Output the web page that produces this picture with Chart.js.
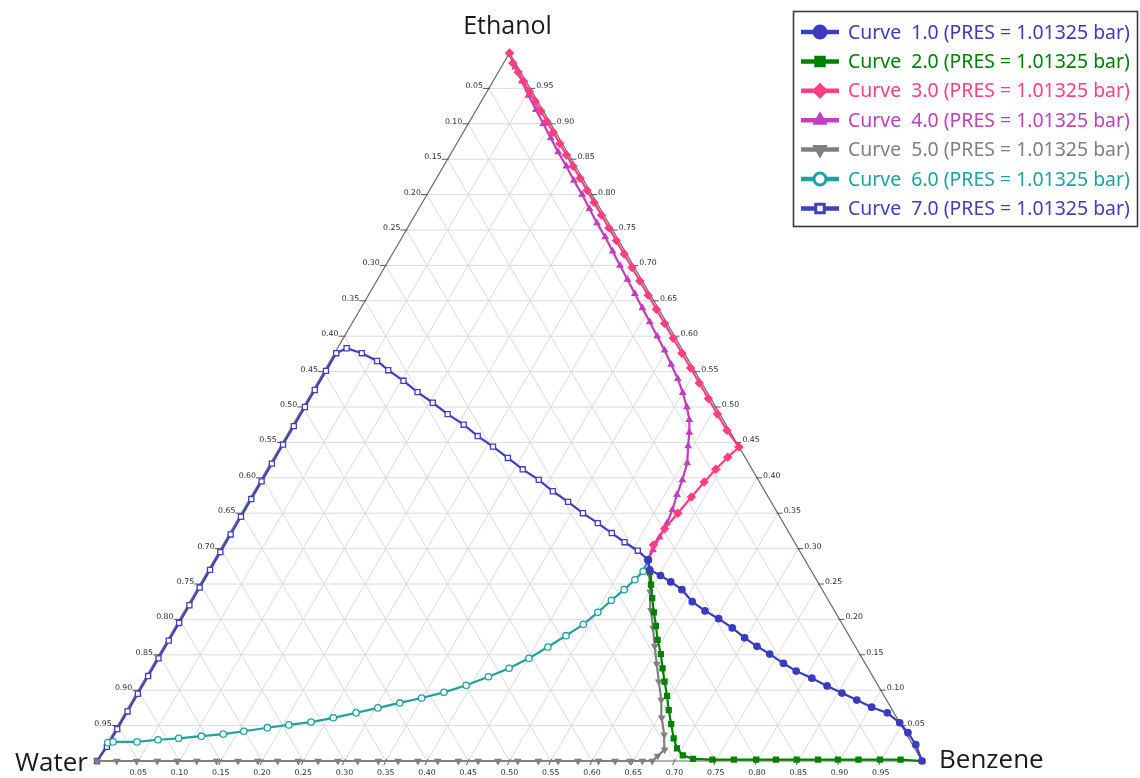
<!DOCTYPE html>
<html><head><meta charset="utf-8">
<script src="https://cdn.jsdelivr.net/npm/chart.js@4.4.1/dist/chart.umd.min.js"></script>
<style>html,body{margin:0;padding:0;background:#fff;}#wrap{width:1140px;height:778px;position:relative;}</style>
</head><body><div id="wrap"><canvas id="c"></canvas></div>
<script>
// ---- data (mole fractions; water = 1 - ethanol - benzene) ----
const vertexNames = ['Water', 'Ethanol', 'Benzene'];
const tickValues = [0.05,0.10,0.15,0.20,0.25,0.30,0.35,0.40,0.45,0.50,0.55,0.60,0.65,0.70,0.75,0.80,0.85,0.90,0.95];
const tickLabels = ['0.05','0.10','0.15','0.20','0.25','0.30','0.35','0.40','0.45','0.50','0.55','0.60','0.65','0.70','0.75','0.80','0.85','0.90','0.95'];
const curveNames = ['Curve  1.0 (PRES = 1.01325 bar)','Curve  2.0 (PRES = 1.01325 bar)','Curve  3.0 (PRES = 1.01325 bar)','Curve  4.0 (PRES = 1.01325 bar)','Curve  5.0 (PRES = 1.01325 bar)','Curve  6.0 (PRES = 1.01325 bar)','Curve  7.0 (PRES = 1.01325 bar)'];

const curve1Ethanol = [0.284,0.270,0.262,0.253,0.242,0.225,0.212,0.201,0.188,0.174,0.162,0.151,0.138,0.127,0.117,0.106,0.096,0.086,0.076,0.068,0.054,0.040,0.023,0.000];
const curve1Benzene = [0.526,0.535,0.552,0.569,0.588,0.609,0.631,0.653,0.676,0.698,0.719,0.740,0.763,0.784,0.808,0.832,0.855,0.878,0.901,0.924,0.946,0.963,0.981,1.000];

const curve2Ethanol = [0.284,0.267,0.249,0.230,0.210,0.191,0.171,0.151,0.131,0.112,0.092,0.072,0.052,0.032,0.018,0.008,0.003,0.002,0.002,0.002,0.002,0.002,0.002,0.002,0.002,0.002,0.002,0.000];
const curve2Benzene = [0.526,0.537,0.547,0.558,0.570,0.582,0.594,0.608,0.620,0.632,0.645,0.657,0.670,0.683,0.694,0.706,0.721,0.745,0.771,0.798,0.822,0.847,0.873,0.897,0.922,0.948,0.973,1.000];

const curve3Ethanol = [1.000,0.986,0.973,0.960,0.946,0.932,0.918,0.903,0.888,0.872,0.856,0.840,0.823,0.806,0.789,0.771,0.753,0.735,0.716,0.697,0.678,0.658,0.638,0.618,0.597,0.576,0.555,0.534,0.512,0.490,0.467,0.4435,0.429,0.412,0.394,0.373,0.350,0.328,0.305,0.284];
const curve3Benzene = [0.000,0.011,0.024,0.037,0.051,0.065,0.079,0.094,0.109,0.125,0.141,0.157,0.174,0.191,0.208,0.226,0.244,0.262,0.281,0.300,0.319,0.339,0.359,0.379,0.400,0.421,0.442,0.463,0.485,0.507,0.530,0.5565,0.550,0.544,0.539,0.534,0.529,0.524,0.522,0.526];

const curve4Ethanol = [1.000,0.980,0.960,0.940,0.920,0.900,0.880,0.860,0.840,0.820,0.800,0.780,0.760,0.740,0.720,0.700,0.680,0.660,0.640,0.620,0.600,0.580,0.560,0.540,0.520,0.500,0.482,0.464,0.445,0.421,0.397,0.376,0.355,0.336,0.316,0.298,0.284];
const curve4Benzene = [0.000,0.017,0.035,0.053,0.072,0.091,0.110,0.129,0.149,0.168,0.188,0.207,0.226,0.246,0.265,0.284,0.303,0.322,0.341,0.360,0.379,0.398,0.416,0.434,0.450,0.465,0.477,0.486,0.494,0.505,0.511,0.515,0.520,0.523,0.524,0.525,0.526];

const curve5Ethanol = [0,0,0,0,0,0,0,0,0,0,0,0,0,0,0,0,0,0,0,0,0,0,0,0,0,0,0,0,0,0,0.007,0.016,0.037,0.061,0.086,0.112,0.137,0.162,0.188,0.213,0.239,0.263,0.284];
const curve5Benzene = [0.000,0.024,0.048,0.073,0.097,0.121,0.145,0.171,0.195,0.219,0.244,0.268,0.292,0.316,0.341,0.365,0.389,0.413,0.438,0.462,0.486,0.510,0.535,0.559,0.583,0.608,0.628,0.646,0.661,0.673,0.676,0.680,0.669,0.654,0.641,0.625,0.610,0.595,0.580,0.565,0.551,0.538,0.526];

const curve6Ethanol = [0.026,0.027,0.027,0.030,0.032,0.035,0.038,0.042,0.047,0.051,0.055,0.061,0.068,0.075,0.082,0.089,0.097,0.107,0.119,0.131,0.145,0.161,0.177,0.193,0.210,0.227,0.242,0.256,0.268,0.284];
const curve6Benzene = [0.000,0.006,0.035,0.059,0.083,0.109,0.134,0.157,0.183,0.207,0.232,0.256,0.280,0.303,0.326,0.349,0.372,0.394,0.415,0.434,0.451,0.466,0.480,0.493,0.502,0.510,0.518,0.524,0.528,0.526];

const curve7Ethanol = [0.000,0.020,0.045,0.070,0.095,0.120,0.145,0.170,0.195,0.220,0.245,0.270,0.295,0.320,0.345,0.370,0.395,0.420,0.447,0.473,0.500,0.524,0.551,0.576,0.583,0.576,0.565,0.552,0.537,0.521,0.506,0.490,0.475,0.459,0.444,0.428,0.412,0.397,0.381,0.366,0.350,0.336,0.322,0.309,0.297,0.284];
const curve7Benzene = [0.000,0.002,0.002,0.002,0.002,0.002,0.002,0.002,0.002,0.002,0.002,0.002,0.002,0.002,0.002,0.002,0.002,0.002,0.002,0.002,0.002,0.002,0.002,0.002,0.011,0.033,0.057,0.077,0.103,0.128,0.154,0.180,0.207,0.232,0.258,0.284,0.310,0.337,0.362,0.388,0.414,0.439,0.463,0.485,0.507,0.526];

// ---- styling ----
const styles = [
  {color:'#3b3bbf', fill:'#3b3bbf', style:'circle', r:3.2, rot:0},
  {color:'#008000', fill:'#008000', style:'rect', r:3.5, rot:0},
  {color:'#ff3f7f', fill:'#ff3f7f', style:'rectRot', r:3.8, rot:0},
  {color:'#bf3fbf', fill:'#bf3fbf', style:'triangle', r:3.2, rot:0},
  {color:'#808080', fill:'#808080', style:'triangle', r:3.2, rot:180},
  {color:'#20a0a0', fill:'#ffffff', style:'circle', r:3.2, rot:0},
  {color:'#3f3fbf', fill:'#ffffff', style:'rect', r:3.6, rot:0}
];
const ethanolSets = [curve1Ethanol,curve2Ethanol,curve3Ethanol,curve4Ethanol,curve5Ethanol,curve6Ethanol,curve7Ethanol];
const benzeneSets = [curve1Benzene,curve2Benzene,curve3Benzene,curve4Benzene,curve5Benzene,curve6Benzene,curve7Benzene];

function toXY(e, b){ return {x: b + e/2, y: e}; }

const datasets = curveNames.map((name,i)=>({
  label: name,
  data: ethanolSets[i].map((e,k)=>toXY(e, benzeneSets[i][k])),
  showLine: true,
  borderColor: styles[i].color,
  backgroundColor: styles[i].fill,
  pointBorderColor: styles[i].color,
  pointBackgroundColor: styles[i].fill,
  pointStyle: styles[i].style,
  pointRadius: styles[i].r,
  pointRotation: styles[i].rot,
  pointBorderWidth: 1.3,
  borderWidth: 2.2,
  tension: 0,
  clip: false
}));

const ternaryFrame = {
  id: 'ternaryFrame',
  beforeDatasetsDraw(chart){
    const ctx = chart.ctx, xs = chart.scales.x, ys = chart.scales.y;
    const P = (e,b)=>[xs.getPixelForValue(b + e/2), ys.getPixelForValue(e)];
    ctx.save();
    ctx.strokeStyle = '#dadada'; ctx.lineWidth = 1;
    ctx.beginPath();
    tickValues.forEach(v=>{
      let a=P(v,0), b=P(v,1-v); ctx.moveTo(a[0],a[1]); ctx.lineTo(b[0],b[1]);
      a=P(0,v); b=P(1-v,v); ctx.moveTo(a[0],a[1]); ctx.lineTo(b[0],b[1]);
      a=P(0,1-v); b=P(1-v,0); ctx.moveTo(a[0],a[1]); ctx.lineTo(b[0],b[1]);
    });
    ctx.stroke();
    const W=P(0,0), E=P(1,0), B=P(0,1);
    ctx.strokeStyle = '#6a6a6a'; ctx.lineWidth = 1.2;
    ctx.beginPath(); ctx.moveTo(W[0],W[1]); ctx.lineTo(E[0],E[1]); ctx.lineTo(B[0],B[1]); ctx.lineTo(W[0],W[1]); ctx.stroke();
    ctx.font = '7.8px "DejaVu Sans"'; ctx.fillStyle = '#2a2a2a';
    ctx.strokeStyle = '#555'; ctx.lineWidth = 1;
    tickValues.forEach((v,i)=>{
      let p = P(1-v, 0);
      ctx.beginPath(); ctx.moveTo(p[0]-6,p[1]); ctx.lineTo(p[0]+1,p[1]); ctx.stroke();
      ctx.textAlign='right'; ctx.textBaseline='middle'; ctx.fillText(tickLabels[i], p[0]-6, p[1]-2);
      p = P(v, 1-v);
      ctx.beginPath(); ctx.moveTo(p[0]-1,p[1]); ctx.lineTo(p[0]+5,p[1]); ctx.stroke();
      ctx.textAlign='left'; ctx.fillText(tickLabels[i], p[0]+6, p[1]-2);
      p = P(0, v);
      ctx.beginPath(); ctx.moveTo(p[0]+1,p[1]-2); ctx.lineTo(p[0]-2,p[1]+4); ctx.stroke();
      ctx.textAlign='center'; ctx.fillText(tickLabels[i], p[0], p[1]+12);
    });
    ctx.restore();
  },
  afterDraw(chart){
    const ctx = chart.ctx, xs = chart.scales.x, ys = chart.scales.y;
    const P = (e,b)=>[xs.getPixelForValue(b + e/2), ys.getPixelForValue(e)];
    ctx.save();
    ctx.font = '25px "Open Sans"'; ctx.fillStyle = '#1a1a1a'; ctx.textBaseline='middle';
    const W=P(0,0), E=P(1,0), B=P(0,1);
    ctx.textAlign='center'; ctx.fillText(vertexNames[1], E[0]-2, E[1]-26);
    ctx.font = '26px "Open Sans"';
    ctx.textAlign='right'; ctx.fillText(vertexNames[0], W[0]-9, W[1]+3);
    ctx.textAlign='left'; ctx.fillText(vertexNames[2], B[0]+17, B[1]);
    ctx.strokeStyle = '#3a3a3a'; ctx.lineWidth = 1.6;
    ctx.strokeRect(793.5, 11.5, 344, 215);
    let fs = 15; ctx.font = fs+'px "Noto Sans"';
    const wNeed = 282, wHave = ctx.measureText(curveNames[0]).width;
    fs = fs * wNeed / wHave; ctx.font = fs.toFixed(2)+'px "Noto Sans"';
    curveNames.forEach((name,i)=>{
      const y = 32 + i*29.4, s = styles[i];
      ctx.strokeStyle = s.color; ctx.lineWidth = 4.5;
      ctx.beginPath(); ctx.moveTo(801,y); ctx.lineTo(839,y); ctx.stroke();
      ctx.fillStyle = s.fill; ctx.strokeStyle = s.color; ctx.lineWidth = 3;
      Chart.helpers.drawPoint(ctx, {pointStyle:s.style, radius:6, rotation:s.rot, borderWidth:3}, 820, y);
      ctx.fillStyle = s.color; ctx.textAlign='left'; ctx.textBaseline='middle';
      ctx.fillText(name, 848, y+1);
    });
    ctx.restore();
  }
};

new Chart(document.getElementById('c'), {
  type: 'scatter',
  data: { datasets },
  options: {
    responsive: true, maintainAspectRatio: false, animation: false,
    layout: { padding: { left: 97, right: 218, top: 53, bottom: 17 } },
    scales: {
      x: { type:'linear', min:0, max:1, display:false },
      y: { type:'linear', min:0, max:1, display:false }
    },
    plugins: { legend: { display:false }, tooltip: { enabled:false } }
  },
  plugins: [ternaryFrame]
});
</script>
</body></html>
